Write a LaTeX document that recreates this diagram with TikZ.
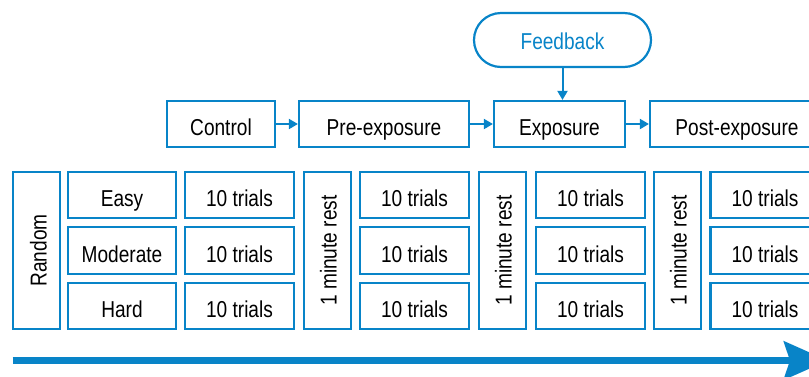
\documentclass[tikz,border=0pt]{standalone}
\usepackage{fontspec}
\setmainfont{Liberation Sans}[FakeStretch=0.83]
\usetikzlibrary{arrows.meta}
\definecolor{blu}{RGB}{8,132,200}
\tikzset{
  box/.style={draw=blu, line width=2.2pt, rectangle, inner sep=0pt, font=\fontsize{23}{25}\selectfont, text=black, text height=22.5pt, text depth=0pt},
  vbox/.style={box, rotate=90, text height=19pt},
  flow/.style={draw=blu, line width=2pt, -{Triangle[length=9pt,width=10pt]}},
}
\begin{document}
\begin{tikzpicture}[x=1pt,y=-1pt]
\useasboundingbox (0,0) rectangle (809,376);
\begin{scope}
\clip (0,0) rectangle (809,376);
% top flow
\node[box, minimum width=108pt, minimum height=46pt] (ctrl) at (221,124) {Control};
\node[box, minimum width=170pt, minimum height=46pt] (pre) at (384,124) {Pre-exposure};
\node[box, minimum width=131pt, minimum height=46pt] (exp) at (559.5,124) {Exposure};
\node[box, minimum width=174pt, minimum height=46pt] (post) at (737,124) {Post-exposure};
\node[box, rounded corners=27pt, minimum width=177pt, minimum height=54pt, text=blu, text height=18.6pt] (fb) at (562.5,40) {Feedback};
\draw[flow] (ctrl) -- (pre);
\draw[flow] (pre) -- (exp);
\draw[flow] (exp) -- (post);
\draw[flow] (fb.south) -- (fb.south |- exp.north);
% grid
\node[vbox, minimum height=47pt, minimum width=157pt, text height=20pt] (rand) at (36.5,250.5) {Random};
\node[box, minimum width=108pt, minimum height=46pt, text height=23.4pt] (easy) at (122,195) {Easy};
\node[box, minimum width=108pt, minimum height=47pt, text height=23.4pt] (mod) at (122,250.5) {Moderate};
\node[box, minimum width=108pt, minimum height=46pt, text height=23.4pt] (hard) at (122,306) {Hard};
\foreach \cx/\nm in {239.5/a, 414.5/b, 590.5/c, 765/d}{
  \node[box, minimum width=109pt, minimum height=46pt, text height=23.4pt] (t\nm1) at (\cx,195) {10 trials};
  \node[box, minimum width=109pt, minimum height=47pt, text height=23.4pt] (t\nm2) at (\cx,250.5) {10 trials};
  \node[box, minimum width=109pt, minimum height=46pt, text height=23.4pt] (t\nm3) at (\cx,306) {10 trials};
}
\foreach \cx/\nm in {327.5/a, 502.5/b, 677.5/c}{
  \node[vbox, minimum height=47pt, minimum width=157pt, text height=18.4pt] (r\nm) at (\cx,250.5) {1 minute rest};
}
% time arrow
\coordinate (ts) at (12.5,360.5);
\coordinate (te) at (828,360.5);
\draw[blu, line width=7pt, -{Stealth[length=44pt,width=38pt,inset=6pt]}] (ts) -- (te);
\end{scope}
\end{tikzpicture}
\end{document}
